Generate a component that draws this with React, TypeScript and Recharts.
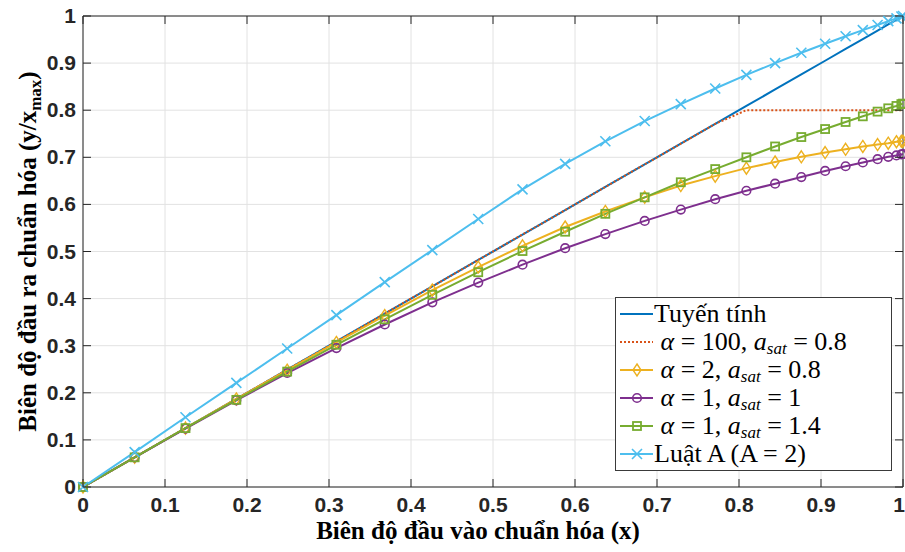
import React from "react";
import {
  LineChart,
  Line,
  XAxis,
  YAxis,
  CartesianGrid,
  ReferenceLine,
  Legend,
  Label,
} from "recharts";

// input amplitude samples (denser near 1)
const xValues = [
  0, 0.063, 0.125, 0.187, 0.249, 0.309, 0.368, 0.426, 0.482, 0.536, 0.588, 0.637, 0.685,
  0.729, 0.771, 0.809, 0.844, 0.876, 0.905, 0.93, 0.951, 0.969, 0.982, 0.992, 0.998, 1.0,
];

const linear = [
  0, 0.063, 0.125, 0.187, 0.249, 0.309, 0.368, 0.426, 0.482, 0.536, 0.588, 0.637, 0.685,
  0.729, 0.771, 0.809, 0.844, 0.876, 0.905, 0.93, 0.951, 0.969, 0.982, 0.992, 0.998, 1.0,
];

const alpha100 = [
  0, 0.063, 0.125, 0.187, 0.249, 0.309, 0.368, 0.426, 0.482, 0.536, 0.588, 0.637, 0.685,
  0.729, 0.771, 0.8, 0.8, 0.8, 0.8, 0.8, 0.8, 0.8, 0.8, 0.8, 0.8, 0.8,
];

const alpha2 = [
  0, 0.063, 0.125, 0.187, 0.248, 0.307, 0.364, 0.418, 0.467, 0.512, 0.552, 0.585, 0.615,
  0.64, 0.66, 0.677, 0.69, 0.701, 0.71, 0.717, 0.723, 0.727, 0.73, 0.733, 0.734, 0.734,
];

const alpha1sat1 = [
  0, 0.063, 0.124, 0.184, 0.242, 0.295, 0.345, 0.392, 0.434, 0.472, 0.507, 0.537, 0.565,
  0.589, 0.611, 0.629, 0.644, 0.658, 0.671, 0.681, 0.689, 0.696, 0.701, 0.704, 0.706, 0.707,
];

const alpha1sat14 = [
  0, 0.063, 0.125, 0.185, 0.245, 0.302, 0.356, 0.408, 0.456, 0.501, 0.542, 0.58, 0.615,
  0.647, 0.675, 0.7, 0.723, 0.743, 0.76, 0.775, 0.787, 0.797, 0.804, 0.809, 0.813, 0.814,
];

const aLaw = [
  0, 0.074, 0.148, 0.221, 0.294, 0.365, 0.435, 0.503, 0.569, 0.632, 0.686, 0.734, 0.777,
  0.813, 0.846, 0.875, 0.9, 0.922, 0.941, 0.957, 0.97, 0.981, 0.989, 0.995, 0.999, 1.0,
];

const tickValues = [0, 0.1, 0.2, 0.3, 0.4, 0.5, 0.6, 0.7, 0.8, 0.9, 1];

const data = xValues.map((x, i) => ({
  x,
  linear: linear[i],
  alpha100: alpha100[i],
  alpha2: alpha2[i],
  alpha1sat1: alpha1sat1[i],
  alpha1sat14: alpha1sat14[i],
  aLaw: aLaw[i],
}));

const COLORS = {
  linear: "#0072BD",
  alpha100: "#D95319",
  alpha2: "#EDB120",
  alpha1sat1: "#7E2F8E",
  alpha1sat14: "#77AC30",
  aLaw: "#4DBEEE",
};

const PLOT_LEFT = 83;
const PLOT_RIGHT = 903;
const PLOT_TOP = 16;
const PLOT_BOTTOM = 487;
const AXIS_COLOR = "#262626";
const TICK_FONT = "'Liberation Sans', Arial, sans-serif";
const SERIF = "'Liberation Serif', 'Times New Roman', serif";

function markerShape(kind: string, cx: number, cy: number, color: string, key?: string) {
  if (kind === "diamond") {
    return (
      <path
        key={key}
        d={`M${cx},${cy - 6} L${cx + 4},${cy} L${cx},${cy + 6} L${cx - 4},${cy} Z`}
        fill="none"
        stroke={color}
        strokeWidth={1.4}
      />
    );
  }
  if (kind === "circle") {
    return <circle key={key} cx={cx} cy={cy} r={4.3} fill="none" stroke={color} strokeWidth={1.6} />;
  }
  if (kind === "square") {
    return (
      <rect key={key} x={cx - 4} y={cy - 4} width={8} height={8} fill="none" stroke={color} strokeWidth={1.8} />
    );
  }
  if (kind === "cross") {
    return (
      <path
        key={key}
        d={`M${cx - 5},${cy - 5} L${cx + 5},${cy + 5} M${cx - 5},${cy + 5} L${cx + 5},${cy - 5}`}
        stroke={color}
        strokeWidth={1.6}
      />
    );
  }
  return <g key={key} />;
}

const makeDot = (kind: string, color: string) => (p: any) =>
  markerShape(kind, p.cx, p.cy, color, `${kind}-${p.index}`);

const XTick = (props: any) => {
  const { x, y, payload } = props;
  // the last label sits on the figure edge, nudge it in a bit
  const tx = payload.value === 1 ? x - 4 : x;
  return (
    <g>
      <line x1={x} y1={PLOT_BOTTOM} x2={x} y2={PLOT_BOTTOM - 8} stroke={AXIS_COLOR} />
      <line x1={x} y1={PLOT_TOP} x2={x} y2={PLOT_TOP + 8} stroke={AXIS_COLOR} />
      <text
        x={tx}
        y={y + 25}
        textAnchor="middle"
        fontFamily={TICK_FONT}
        fontWeight="bold"
        fontSize={21}
        fill={AXIS_COLOR}
      >
        {payload.value}
      </text>
    </g>
  );
};

const YTick = (props: any) => {
  const { y, payload } = props;
  return (
    <g>
      <line x1={PLOT_LEFT} y1={y} x2={PLOT_LEFT + 8} y2={y} stroke={AXIS_COLOR} />
      <line x1={PLOT_RIGHT} y1={y} x2={PLOT_RIGHT - 8} y2={y} stroke={AXIS_COLOR} />
      <text
        x={PLOT_LEFT - 7}
        y={y + 7}
        textAnchor="end"
        fontFamily={TICK_FONT}
        fontWeight="bold"
        fontSize={21}
        fill={AXIS_COLOR}
      >
        {payload.value}
      </text>
    </g>
  );
};

const XTitle = (props: any) => {
  const vb = props.viewBox;
  return (
    <text
      x={vb.x + vb.width / 2 - 15}
      y={vb.y + 52}
      textAnchor="middle"
      fontFamily={SERIF}
      fontWeight="bold"
      fontSize={25}
      fill="#000"
    >
      Biên độ đầu vào chuẩn hóa (x)
    </text>
  );
};

const YTitle = (props: any) => {
  const vb = props.viewBox;
  const cx = vb.x + 36;
  const cy = vb.y + vb.height / 2;
  return (
    <text
      x={cx}
      y={cy}
      transform={`rotate(-90, ${cx}, ${cy})`}
      textAnchor="middle"
      fontFamily={SERIF}
      fontWeight="bold"
      fontSize={25}
      fill="#000"
    >
      Biên độ đầu ra chuẩn hóa (y/x
      <tspan fontSize={17} dy={5}>
        max
      </tspan>
      <tspan dy={-5}>)</tspan>
    </text>
  );
};

const legendRows = [
  { key: "linear", marker: "none", dashed: false },
  { key: "alpha100", marker: "none", dashed: true },
  { key: "alpha2", marker: "diamond", dashed: false },
  { key: "alpha1sat1", marker: "circle", dashed: false },
  { key: "alpha1sat14", marker: "square", dashed: false },
  { key: "aLaw", marker: "cross", dashed: false },
];

const Sat = ({ alpha, sat }: { alpha: string; sat: string }) => (
  <span>
    &nbsp;<i>α</i> = {alpha}, <i>a</i>
    <i style={{ fontSize: 17, position: "relative", top: 4 }}>sat</i> = {sat}
  </span>
);

const legendText: Record<string, React.ReactNode> = {
  linear: "Tuyến tính",
  alpha100: <Sat alpha="100" sat="0.8" />,
  alpha2: <Sat alpha="2" sat="0.8" />,
  alpha1sat1: <Sat alpha="1" sat="1" />,
  alpha1sat14: <Sat alpha="1" sat="1.4" />,
  aLaw: "Luật A (A = 2)",
};

const LegendBox = () => (
  <div
    style={{
      width: 277,
      height: 174,
      boxSizing: "border-box",
      border: "1.5px solid #3a3a3a",
      background: "#fff",
      paddingTop: 2,
      fontFamily: SERIF,
      fontSize: 26,
      color: "#000",
    }}
  >
    {legendRows.map((r) => {
      const color = (COLORS as any)[r.key];
      return (
        <div
          key={r.key}
          style={{ height: 28, lineHeight: 1, display: "flex", alignItems: "center", whiteSpace: "nowrap" }}
        >
          <svg width={38} height={28} style={{ flex: "none" }}>
            <line
              x1={4}
              y1={14}
              x2={37}
              y2={14}
              stroke={color}
              strokeWidth={2}
              strokeDasharray={r.dashed ? "2 2" : undefined}
            />
            {markerShape(r.marker, 21, 14, color)}
          </svg>
          <span>{legendText[r.key]}</span>
        </div>
      );
    })}
  </div>
);

export default function App() {
  return (
    <div style={{ width: 905, height: 552, background: "#fff" }}>
      <style>{"body{margin:0;background:#fff}"}</style>
      <LineChart width={905} height={552} data={data} margin={{ top: PLOT_TOP, right: 2, left: 0, bottom: 0 }}>
        <CartesianGrid stroke="#e2e2e2" strokeWidth={1} />
        <XAxis
          dataKey="x"
          type="number"
          domain={[0, 1]}
          ticks={tickValues}
          interval={0}
          height={65}
          tickSize={0}
          tickMargin={0}
          tickLine={false}
          axisLine={{ stroke: AXIS_COLOR }}
          tick={<XTick />}
        >
          <Label content={<XTitle />} />
        </XAxis>
        <YAxis
          type="number"
          domain={[0, 1]}
          ticks={tickValues}
          interval={0}
          width={83}
          tickSize={0}
          tickMargin={0}
          tickLine={false}
          axisLine={{ stroke: AXIS_COLOR }}
          tick={<YTick />}
        >
          <Label content={<YTitle />} />
        </YAxis>
        <ReferenceLine x={1} stroke={AXIS_COLOR} />
        <ReferenceLine y={1} stroke={AXIS_COLOR} />
        <Line
          dataKey="linear"
          stroke={COLORS.linear}
          strokeWidth={2}
          dot={false}
          isAnimationActive={false}
        />
        <Line
          dataKey="alpha100"
          stroke={COLORS.alpha100}
          strokeWidth={2}
          strokeDasharray="2 2"
          dot={false}
          isAnimationActive={false}
        />
        <Line
          dataKey="alpha2"
          stroke={COLORS.alpha2}
          strokeWidth={2}
          dot={makeDot("diamond", COLORS.alpha2)}
          isAnimationActive={false}
        />
        <Line
          dataKey="alpha1sat1"
          stroke={COLORS.alpha1sat1}
          strokeWidth={2}
          dot={makeDot("circle", COLORS.alpha1sat1)}
          isAnimationActive={false}
        />
        <Line
          dataKey="alpha1sat14"
          stroke={COLORS.alpha1sat14}
          strokeWidth={2}
          dot={makeDot("square", COLORS.alpha1sat14)}
          isAnimationActive={false}
        />
        <Line
          dataKey="aLaw"
          stroke={COLORS.aLaw}
          strokeWidth={2}
          dot={makeDot("cross", COLORS.aLaw)}
          isAnimationActive={false}
        />
        <Legend
          layout="vertical"
          align="center"
          verticalAlign="middle"
          content={<LegendBox />}
          wrapperStyle={{ left: 615, top: 297, width: 277, height: 174 }}
        />
      </LineChart>
    </div>
  );
}
